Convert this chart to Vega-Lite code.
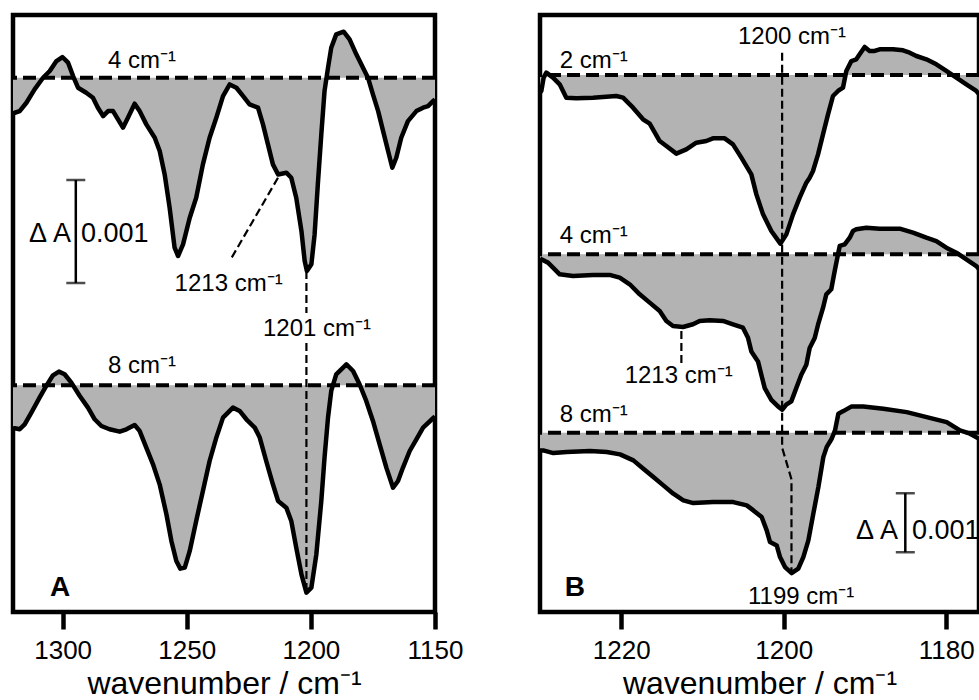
{
"$schema": "https://vega.github.io/schema/vega-lite/v6.json",
"padding": {"left": 8, "top": 12, "right": 0, "bottom": 0},
"bounds": "flush",
"spacing": 105,
"config": {
 "font": "Liberation Sans",
 "view": {"stroke": "#000", "strokeWidth": 4.5},
 "axis": {"grid": false, "domain": false, "tickColor": "#000", "tickWidth": 4.5, "tickSize": 17, "labelFontSize": 26, "labelColor": "#000", "labelPadding": 8, "labelFlush": false, "labelOverlap": false, "titleFontSize": 32, "titleFontWeight": "normal", "titleColor": "#000", "titlePadding": 5, "labelFont": "Liberation Sans", "titleFont": "Liberation Sans", "format": "d"},
 "text": {"font": "Liberation Sans", "color": "#000"}
},
"datasets": {
 "baselines": [
  {"s": "A4", "panel": "A", "base": 5.168},
  {"s": "A8", "panel": "A", "base": 2.182},
  {"s": "B2", "panel": "B", "base": 9.119},
  {"s": "B4", "panel": "B", "base": 6.080},
  {"s": "B8", "panel": "B", "base": 3.056}
 ],
 "bars": [
  {"panel": "A", "wn": 1294.7, "lo": 3.175, "hi": 4.175},
  {"panel": "B", "wn": 1185.04, "lo": 1.03, "hi": 2.03}
 ],
 "guides": [
  {"panel": "A", "g": "A1213", "ord": 1, "wn": 1213.25, "y": 4.197},
  {"panel": "A", "g": "A1213", "ord": 2, "wn": 1232.3, "y": 3.405},
  {"panel": "A", "g": "A1201a", "ord": 1, "wn": 1201.8, "y": 3.291},
  {"panel": "A", "g": "A1201a", "ord": 2, "wn": 1201.8, "y": 2.883},
  {"panel": "A", "g": "A1201b", "ord": 1, "wn": 1201.8, "y": 2.592},
  {"panel": "A", "g": "A1201b", "ord": 2, "wn": 1201.8, "y": 0.184},
  {"panel": "B", "g": "B1200", "ord": 1, "wn": 1200.2, "y": 9.497},
  {"panel": "B", "g": "B1200", "ord": 2, "wn": 1200.2, "y": 2.802},
  {"panel": "B", "g": "B1200", "ord": 3, "wn": 1199.05, "y": 2.266},
  {"panel": "B", "g": "B1200", "ord": 4, "wn": 1199.05, "y": 0.661},
  {"panel": "B", "g": "B1213", "ord": 1, "wn": 1212.6, "y": 4.78},
  {"panel": "B", "g": "B1213", "ord": 2, "wn": 1212.6, "y": 4.215}
 ],
 "labels": [
  {"panel": "A", "kind": "note", "text": "4 cm⁻¹", "wn": 1281.7, "y": 5.262},
  {"panel": "A", "kind": "note", "text": "8 cm⁻¹", "wn": 1281.7, "y": 2.304},
  {"panel": "A", "kind": "note", "text": "1213 cm⁻¹", "wn": 1254.9, "y": 3.097},
  {"panel": "A", "kind": "note", "text": "1201 cm⁻¹", "wn": 1219.3, "y": 2.66},
  {"panel": "A", "kind": "delta", "text": "Δ A", "wn": 1296.6, "y": 3.576},
  {"panel": "A", "kind": "unit", "text": "0.001", "wn": 1292.6, "y": 3.576},
  {"panel": "A", "kind": "panel", "text": "A", "wn": 1305.1, "y": 0.136},
  {"panel": "B", "kind": "note", "text": "2 cm⁻¹", "wn": 1227.58, "y": 9.242},
  {"panel": "B", "kind": "note", "text": "4 cm⁻¹", "wn": 1227.58, "y": 6.276},
  {"panel": "B", "kind": "note", "text": "8 cm⁻¹", "wn": 1227.58, "y": 3.242},
  {"panel": "B", "kind": "note", "text": "1200 cm⁻¹", "wn": 1205.63, "y": 9.639},
  {"panel": "B", "kind": "note", "text": "1213 cm⁻¹", "wn": 1219.58, "y": 3.903},
  {"panel": "B", "kind": "note", "text": "1199 cm⁻¹", "wn": 1204.4, "y": 0.147},
  {"panel": "B", "kind": "delta", "text": "Δ A", "wn": 1185.94, "y": 1.249},
  {"panel": "B", "kind": "unit", "text": "0.001", "wn": 1184.22, "y": 1.249},
  {"panel": "B", "kind": "panel", "text": "B", "wn": 1226.96, "y": 0.288}
 ],
 "spectra": [
  {"s":"A4","wn":1320,"dA":-0.345},{"s":"A4","wn":1319.3,"dA":-0.34},{"s":"A4","wn":1317.3,"dA":-0.324},{"s":"A4","wn":1314.6,"dA":-0.243},{"s":"A4","wn":1311.3,"dA":-0.113},{"s":"A4","wn":1307.9,"dA":0},{"s":"A4","wn":1305.2,"dA":0.065},{"s":"A4","wn":1302.5,"dA":0.162},{"s":"A4","wn":1300.1,"dA":0.201},{"s":"A4","wn":1297.8,"dA":0.146},{"s":"A4","wn":1295.8,"dA":0.016},{"s":"A4","wn":1293.8,"dA":-0.097},{"s":"A4","wn":1290.5,"dA":-0.146},{"s":"A4","wn":1287.8,"dA":-0.194},{"s":"A4","wn":1285.8,"dA":-0.291},{"s":"A4","wn":1283.7,"dA":-0.372},{"s":"A4","wn":1281.7,"dA":-0.324},{"s":"A4","wn":1279.7,"dA":-0.324},{"s":"A4","wn":1277.7,"dA":-0.405},{"s":"A4","wn":1275.7,"dA":-0.485},{"s":"A4","wn":1273.7,"dA":-0.388},{"s":"A4","wn":1271.0,"dA":-0.252},{"s":"A4","wn":1269.0,"dA":-0.324},{"s":"A4","wn":1266.3,"dA":-0.453},{"s":"A4","wn":1262.9,"dA":-0.583},{"s":"A4","wn":1260.9,"dA":-0.712},{"s":"A4","wn":1258.9,"dA":-0.939},{"s":"A4","wn":1256.9,"dA":-1.262},{"s":"A4","wn":1254.9,"dA":-1.65},{"s":"A4","wn":1253.5,"dA":-1.731},{"s":"A4","wn":1251.5,"dA":-1.618},{"s":"A4","wn":1248.8,"dA":-1.359},{"s":"A4","wn":1246.2,"dA":-1.165},{"s":"A4","wn":1243.5,"dA":-0.841},{"s":"A4","wn":1240.8,"dA":-0.583},{"s":"A4","wn":1238.1,"dA":-0.388},{"s":"A4","wn":1235.4,"dA":-0.178},{"s":"A4","wn":1232.7,"dA":-0.065},{"s":"A4","wn":1230.0,"dA":-0.097},{"s":"A4","wn":1227.3,"dA":-0.178},{"s":"A4","wn":1224.7,"dA":-0.259},{"s":"A4","wn":1221.3,"dA":-0.291},{"s":"A4","wn":1219.3,"dA":-0.453},{"s":"A4","wn":1217.3,"dA":-0.647},{"s":"A4","wn":1215.3,"dA":-0.841},{"s":"A4","wn":1213.2,"dA":-0.939},{"s":"A4","wn":1209.9,"dA":-0.922},{"s":"A4","wn":1207.9,"dA":-0.971},{"s":"A4","wn":1205.9,"dA":-1.165},{"s":"A4","wn":1203.8,"dA":-1.489},{"s":"A4","wn":1202.5,"dA":-1.78},{"s":"A4","wn":1201.6,"dA":-1.877},{"s":"A4","wn":1199.8,"dA":-1.812},{"s":"A4","wn":1198.5,"dA":-1.521},{"s":"A4","wn":1197.2,"dA":-1.036},{"s":"A4","wn":1195.8,"dA":-0.55},{"s":"A4","wn":1194.5,"dA":-0.129},{"s":"A4","wn":1193.1,"dA":0.097},{"s":"A4","wn":1191.8,"dA":0.291},{"s":"A4","wn":1189.8,"dA":0.421},{"s":"A4","wn":1186.8,"dA":0.447},{"s":"A4","wn":1184.4,"dA":0.372},{"s":"A4","wn":1181.7,"dA":0.227},{"s":"A4","wn":1179.0,"dA":0.097},{"s":"A4","wn":1177.0,"dA":0},{"s":"A4","wn":1175.0,"dA":-0.162},{"s":"A4","wn":1172.9,"dA":-0.324},{"s":"A4","wn":1170.9,"dA":-0.518},{"s":"A4","wn":1168.9,"dA":-0.712},{"s":"A4","wn":1167.2,"dA":-0.874},{"s":"A4","wn":1165.6,"dA":-0.777},{"s":"A4","wn":1163.6,"dA":-0.583},{"s":"A4","wn":1160.9,"dA":-0.421},{"s":"A4","wn":1157.5,"dA":-0.324},{"s":"A4","wn":1154.8,"dA":-0.291},{"s":"A4","wn":1152.8,"dA":-0.275},{"s":"A4","wn":1150.8,"dA":-0.227},{"s":"A4","wn":1150.0,"dA":-0.21},
  {"s":"A8","wn":1320,"dA":-0.42},{"s":"A8","wn":1319.3,"dA":-0.417},{"s":"A8","wn":1317.3,"dA":-0.427},{"s":"A8","wn":1315.3,"dA":-0.379},{"s":"A8","wn":1312.6,"dA":-0.265},{"s":"A8","wn":1309.3,"dA":-0.12},{"s":"A8","wn":1306.6,"dA":-0.006},{"s":"A8","wn":1303.9,"dA":0.097},{"s":"A8","wn":1301.5,"dA":0.133},{"s":"A8","wn":1299.2,"dA":0.107},{"s":"A8","wn":1296.5,"dA":0.026},{"s":"A8","wn":1293.1,"dA":-0.104},{"s":"A8","wn":1289.8,"dA":-0.217},{"s":"A8","wn":1287.1,"dA":-0.33},{"s":"A8","wn":1284.4,"dA":-0.395},{"s":"A8","wn":1281.1,"dA":-0.427},{"s":"A8","wn":1277.0,"dA":-0.45},{"s":"A8","wn":1274.3,"dA":-0.427},{"s":"A8","wn":1271.0,"dA":-0.385},{"s":"A8","wn":1269.0,"dA":-0.443},{"s":"A8","wn":1266.3,"dA":-0.605},{"s":"A8","wn":1263.6,"dA":-0.767},{"s":"A8","wn":1260.9,"dA":-0.964},{"s":"A8","wn":1258.2,"dA":-1.252},{"s":"A8","wn":1256.2,"dA":-1.511},{"s":"A8","wn":1254.2,"dA":-1.706},{"s":"A8","wn":1252.6,"dA":-1.78},{"s":"A8","wn":1250.8,"dA":-1.77},{"s":"A8","wn":1248.8,"dA":-1.608},{"s":"A8","wn":1246.2,"dA":-1.317},{"s":"A8","wn":1243.5,"dA":-1.026},{"s":"A8","wn":1240.8,"dA":-0.735},{"s":"A8","wn":1238.1,"dA":-0.508},{"s":"A8","wn":1235.4,"dA":-0.314},{"s":"A8","wn":1231.4,"dA":-0.217},{"s":"A8","wn":1228.7,"dA":-0.249},{"s":"A8","wn":1226.0,"dA":-0.33},{"s":"A8","wn":1222.6,"dA":-0.411},{"s":"A8","wn":1220.6,"dA":-0.508},{"s":"A8","wn":1218.0,"dA":-0.735},{"s":"A8","wn":1215.3,"dA":-0.961},{"s":"A8","wn":1213.2,"dA":-1.123},{"s":"A8","wn":1209.9,"dA":-1.188},{"s":"A8","wn":1207.9,"dA":-1.317},{"s":"A8","wn":1205.9,"dA":-1.576},{"s":"A8","wn":1203.8,"dA":-1.835},{"s":"A8","wn":1201.8,"dA":-2.013},{"s":"A8","wn":1199.8,"dA":-1.964},{"s":"A8","wn":1197.8,"dA":-1.641},{"s":"A8","wn":1195.8,"dA":-1.123},{"s":"A8","wn":1194.5,"dA":-0.702},{"s":"A8","wn":1193.1,"dA":-0.314},{"s":"A8","wn":1191.8,"dA":-0.055},{"s":"A8","wn":1189.8,"dA":0.107},{"s":"A8","wn":1185.7,"dA":0.204},{"s":"A8","wn":1183.0,"dA":0.139},{"s":"A8","wn":1180.4,"dA":0.01},{"s":"A8","wn":1177.7,"dA":-0.152},{"s":"A8","wn":1175.0,"dA":-0.346},{"s":"A8","wn":1172.3,"dA":-0.573},{"s":"A8","wn":1169.6,"dA":-0.799},{"s":"A8","wn":1166.9,"dA":-0.994},{"s":"A8","wn":1164.9,"dA":-0.929},{"s":"A8","wn":1162.9,"dA":-0.799},{"s":"A8","wn":1160.2,"dA":-0.638},{"s":"A8","wn":1157.5,"dA":-0.524},{"s":"A8","wn":1154.8,"dA":-0.411},{"s":"A8","wn":1150.8,"dA":-0.32},{"s":"A8","wn":1150.0,"dA":-0.3},
  {"s":"B2","wn":1230.0,"dA":-0.3},{"s":"B2","wn":1229.84,"dA":-0.271},{"s":"B2","wn":1229.55,"dA":-0.045},{"s":"B2","wn":1229.22,"dA":0.04},{"s":"B2","wn":1228.4,"dA":-0.045},{"s":"B2","wn":1227.58,"dA":-0.158},{"s":"B2","wn":1226.76,"dA":-0.384},{"s":"B2","wn":1225.53,"dA":-0.395},{"s":"B2","wn":1223.48,"dA":-0.384},{"s":"B2","wn":1220.61,"dA":-0.356},{"s":"B2","wn":1219.78,"dA":-0.384},{"s":"B2","wn":1218.55,"dA":-0.554},{"s":"B2","wn":1217.32,"dA":-0.751},{"s":"B2","wn":1216.5,"dA":-0.825},{"s":"B2","wn":1215.27,"dA":-1.119},{"s":"B2","wn":1214.45,"dA":-1.203},{"s":"B2","wn":1213.22,"dA":-1.333},{"s":"B2","wn":1211.99,"dA":-1.26},{"s":"B2","wn":1210.76,"dA":-1.147},{"s":"B2","wn":1209.53,"dA":-1.119},{"s":"B2","wn":1208.71,"dA":-1.073},{"s":"B2","wn":1207.27,"dA":-1.073},{"s":"B2","wn":1206.25,"dA":-1.175},{"s":"B2","wn":1205.22,"dA":-1.401},{"s":"B2","wn":1203.99,"dA":-1.684},{"s":"B2","wn":1203.37,"dA":-2.023},{"s":"B2","wn":1202.55,"dA":-2.362},{"s":"B2","wn":1201.53,"dA":-2.644},{"s":"B2","wn":1200.42,"dA":-2.859},{"s":"B2","wn":1199.68,"dA":-2.701},{"s":"B2","wn":1198.86,"dA":-2.362},{"s":"B2","wn":1198.04,"dA":-2.079},{"s":"B2","wn":1197.22,"dA":-1.825},{"s":"B2","wn":1196.81,"dA":-1.74},{"s":"B2","wn":1196.4,"dA":-1.627},{"s":"B2","wn":1195.78,"dA":-1.345},{"s":"B2","wn":1195.17,"dA":-1.006},{"s":"B2","wn":1194.55,"dA":-0.667},{"s":"B2","wn":1193.94,"dA":-0.356},{"s":"B2","wn":1193.32,"dA":-0.271},{"s":"B2","wn":1192.71,"dA":-0.215},{"s":"B2","wn":1192.3,"dA":0.068},{"s":"B2","wn":1191.68,"dA":0.237},{"s":"B2","wn":1191.07,"dA":0.266},{"s":"B2","wn":1190.66,"dA":0.35},{"s":"B2","wn":1190.04,"dA":0.475},{"s":"B2","wn":1189.43,"dA":0.407},{"s":"B2","wn":1188.81,"dA":0.407},{"s":"B2","wn":1188.2,"dA":0.435},{"s":"B2","wn":1186.55,"dA":0.435},{"s":"B2","wn":1185.32,"dA":0.418},{"s":"B2","wn":1184.5,"dA":0.379},{"s":"B2","wn":1183.68,"dA":0.322},{"s":"B2","wn":1182.45,"dA":0.266},{"s":"B2","wn":1181.22,"dA":0.181},{"s":"B2","wn":1179.99,"dA":0.068},{"s":"B2","wn":1178.76,"dA":-0.045},{"s":"B2","wn":1177.53,"dA":-0.158},{"s":"B2","wn":1176.3,"dA":-0.271},{"s":"B2","wn":1175.6,"dA":-0.384},
  {"s":"B4","wn":1230.0,"dA":-0.07},{"s":"B4","wn":1229.84,"dA":-0.085},{"s":"B4","wn":1229.02,"dA":-0.141},{"s":"B4","wn":1228.4,"dA":-0.226},{"s":"B4","wn":1227.58,"dA":-0.339},{"s":"B4","wn":1225.94,"dA":-0.367},{"s":"B4","wn":1223.48,"dA":-0.35},{"s":"B4","wn":1221.43,"dA":-0.35},{"s":"B4","wn":1220.19,"dA":-0.395},{"s":"B4","wn":1218.96,"dA":-0.508},{"s":"B4","wn":1217.73,"dA":-0.678},{"s":"B4","wn":1216.5,"dA":-0.819},{"s":"B4","wn":1215.27,"dA":-0.96},{"s":"B4","wn":1214.45,"dA":-1.13},{"s":"B4","wn":1213.63,"dA":-1.215},{"s":"B4","wn":1212.4,"dA":-1.232},{"s":"B4","wn":1211.17,"dA":-1.186},{"s":"B4","wn":1210.35,"dA":-1.13},{"s":"B4","wn":1209.12,"dA":-1.119},{"s":"B4","wn":1207.48,"dA":-1.13},{"s":"B4","wn":1206.25,"dA":-1.186},{"s":"B4","wn":1205.02,"dA":-1.244},{"s":"B4","wn":1204.4,"dA":-1.414},{"s":"B4","wn":1203.99,"dA":-1.646},{"s":"B4","wn":1203.17,"dA":-1.815},{"s":"B4","wn":1202.76,"dA":-2.041},{"s":"B4","wn":1202.34,"dA":-2.268},{"s":"B4","wn":1201.53,"dA":-2.466},{"s":"B4","wn":1200.71,"dA":-2.578},{"s":"B4","wn":1200.18,"dA":-2.634},{"s":"B4","wn":1199.69,"dA":-2.549},{"s":"B4","wn":1199.07,"dA":-2.493},{"s":"B4","wn":1198.46,"dA":-2.268},{"s":"B4","wn":1197.84,"dA":-2.041},{"s":"B4","wn":1197.22,"dA":-1.872},{"s":"B4","wn":1196.81,"dA":-1.588},{"s":"B4","wn":1196.19,"dA":-1.419},{"s":"B4","wn":1195.78,"dA":-1.193},{"s":"B4","wn":1195.17,"dA":-0.91},{"s":"B4","wn":1194.76,"dA":-0.678},{"s":"B4","wn":1194.15,"dA":-0.593},{"s":"B4","wn":1193.73,"dA":-0.283},{"s":"B4","wn":1193.32,"dA":0},{"s":"B4","wn":1193.11,"dA":0.141},{"s":"B4","wn":1192.5,"dA":0.168},{"s":"B4","wn":1191.88,"dA":0.281},{"s":"B4","wn":1191.48,"dA":0.395},{"s":"B4","wn":1191.07,"dA":0.424},{"s":"B4","wn":1189.84,"dA":0.451},{"s":"B4","wn":1188.19,"dA":0.434},{"s":"B4","wn":1185.73,"dA":0.434},{"s":"B4","wn":1184.09,"dA":0.366},{"s":"B4","wn":1182.45,"dA":0.281},{"s":"B4","wn":1181.22,"dA":0.225},{"s":"B4","wn":1179.99,"dA":0.112},{"s":"B4","wn":1178.76,"dA":0.027},{"s":"B4","wn":1177.53,"dA":-0.085},{"s":"B4","wn":1176.3,"dA":-0.199},{"s":"B4","wn":1175.6,"dA":-0.311},
  {"s":"B8","wn":1230.0,"dA":-0.3},{"s":"B8","wn":1229.6,"dA":-0.3},{"s":"B8","wn":1228.36,"dA":-0.345},{"s":"B8","wn":1226.72,"dA":-0.328},{"s":"B8","wn":1223.85,"dA":-0.311},{"s":"B8","wn":1221.79,"dA":-0.328},{"s":"B8","wn":1220.15,"dA":-0.367},{"s":"B8","wn":1218.51,"dA":-0.469},{"s":"B8","wn":1217.28,"dA":-0.61},{"s":"B8","wn":1216.05,"dA":-0.752},{"s":"B8","wn":1214.82,"dA":-0.893},{"s":"B8","wn":1213.59,"dA":-1.034},{"s":"B8","wn":1212.36,"dA":-1.147},{"s":"B8","wn":1211.13,"dA":-1.193},{"s":"B8","wn":1208.67,"dA":-1.176},{"s":"B8","wn":1206.21,"dA":-1.176},{"s":"B8","wn":1204.56,"dA":-1.232},{"s":"B8","wn":1203.74,"dA":-1.317},{"s":"B8","wn":1202.72,"dA":-1.43},{"s":"B8","wn":1202.1,"dA":-1.656},{"s":"B8","wn":1201.69,"dA":-1.854},{"s":"B8","wn":1200.87,"dA":-1.91},{"s":"B8","wn":1200.46,"dA":-2.108},{"s":"B8","wn":1199.85,"dA":-2.278},{"s":"B8","wn":1199.03,"dA":-2.38},{"s":"B8","wn":1198.21,"dA":-2.305},{"s":"B8","wn":1197.59,"dA":-2.108},{"s":"B8","wn":1196.97,"dA":-1.825},{"s":"B8","wn":1196.36,"dA":-1.373},{"s":"B8","wn":1195.74,"dA":-0.922},{"s":"B8","wn":1195.13,"dA":-0.414},{"s":"B8","wn":1194.72,"dA":-0.244},{"s":"B8","wn":1194.1,"dA":-0.102},{"s":"B8","wn":1193.69,"dA":0.039},{"s":"B8","wn":1193.28,"dA":0.322},{"s":"B8","wn":1192.67,"dA":0.366},{"s":"B8","wn":1191.64,"dA":0.446},{"s":"B8","wn":1190.21,"dA":0.446},{"s":"B8","wn":1187.74,"dA":0.407},{"s":"B8","wn":1184.87,"dA":0.349},{"s":"B8","wn":1182.41,"dA":0.264},{"s":"B8","wn":1179.95,"dA":0.18},{"s":"B8","wn":1178.31,"dA":0.039},{"s":"B8","wn":1177.08,"dA":-0.017},{"s":"B8","wn":1175.6,"dA":-0.131}
 ]
},
"hconcat": [
 {
  "width": 422, "height": 597,
  "layer": [
   {"data": {"name": "spectra"},
    "transform": [{"filter": {"field": "s", "oneOf": ["A4", "A8"]}}, {"lookup": "s", "from": {"data": {"name": "baselines"}, "key": "s", "fields": ["base"]}}, {"calculate": "datum.dA + datum.base", "as": "y"}],
    "mark": {"type": "area", "clip": true, "fill": "#b3b3b3", "stroke": null},
    "encoding": {
     "x": {"field": "wn", "type": "quantitative", "scale": {"domain": [1150, 1320], "reverse": true, "nice": false, "zero": false}, "axis": {"values": [1300, 1250, 1200, 1150], "title": "wavenumber / cm⁻¹"}},
     "y": {"field": "y", "type": "quantitative", "scale": {"domain": [-0.019, 5.777], "nice": false, "zero": false}, "axis": null},
     "y2": {"field": "base"},
     "detail": {"field": "s"}
    }},
   {"data": {"name": "baselines"},
    "transform": [{"filter": "datum.panel === 'A'"}],
    "mark": {"type": "rule", "color": "#000", "strokeWidth": 4, "strokeDash": [13, 6]},
    "encoding": {
     "y": {"field": "base", "type": "quantitative", "scale": {"domain": [-0.019, 5.777], "nice": false, "zero": false}, "axis": null}
    }},
   {"data": {"name": "spectra"},
    "transform": [{"filter": {"field": "s", "oneOf": ["A4", "A8"]}}, {"lookup": "s", "from": {"data": {"name": "baselines"}, "key": "s", "fields": ["base"]}}, {"calculate": "datum.dA + datum.base", "as": "y"}],
    "mark": {"type": "line", "clip": true, "color": "#000", "strokeWidth": 4.5, "strokeJoin": "round"},
    "encoding": {
     "x": {"field": "wn", "type": "quantitative", "scale": {"domain": [1150, 1320], "reverse": true, "nice": false, "zero": false}, "axis": {"values": [1300, 1250, 1200, 1150], "title": "wavenumber / cm⁻¹"}},
     "y": {"field": "y", "type": "quantitative", "scale": {"domain": [-0.019, 5.777], "nice": false, "zero": false}, "axis": null},
     "detail": {"field": "s"}
    }},
   {"data": {"name": "guides"},
    "transform": [{"filter": "datum.panel === 'A'"}],
    "mark": {"type": "line", "color": "#000", "strokeWidth": 2.2, "strokeDash": [8, 4]},
    "encoding": {
     "x": {"field": "wn", "type": "quantitative", "scale": {"domain": [1150, 1320], "reverse": true, "nice": false, "zero": false}, "axis": {"values": [1300, 1250, 1200, 1150], "title": "wavenumber / cm⁻¹"}},
     "y": {"field": "y", "type": "quantitative", "scale": {"domain": [-0.019, 5.777], "nice": false, "zero": false}, "axis": null},
     "detail": {"field": "g"},
     "order": {"field": "ord"}
    }},
   {"data": {"name": "bars"},
    "transform": [{"filter": "datum.panel === 'A'"}],
    "mark": {"type": "rule", "color": "#000", "strokeWidth": 2.5},
    "encoding": {
     "x": {"field": "wn", "type": "quantitative", "scale": {"domain": [1150, 1320], "reverse": true, "nice": false, "zero": false}, "axis": {"values": [1300, 1250, 1200, 1150], "title": "wavenumber / cm⁻¹"}},
     "y": {"field": "lo", "type": "quantitative", "scale": {"domain": [-0.019, 5.777], "nice": false, "zero": false}, "axis": null},
     "y2": {"field": "hi"}
    }},
   {"data": {"name": "bars"},
    "transform": [{"filter": "datum.panel === 'A'"}],
    "mark": {"type": "tick", "orient": "horizontal", "color": "#000", "size": 19, "thickness": 2.5},
    "encoding": {
     "x": {"field": "wn", "type": "quantitative", "scale": {"domain": [1150, 1320], "reverse": true, "nice": false, "zero": false}, "axis": {"values": [1300, 1250, 1200, 1150], "title": "wavenumber / cm⁻¹"}},
     "y": {"field": "lo", "type": "quantitative", "scale": {"domain": [-0.019, 5.777], "nice": false, "zero": false}, "axis": null}
    }},
   {"data": {"name": "bars"},
    "transform": [{"filter": "datum.panel === 'A'"}],
    "mark": {"type": "tick", "orient": "horizontal", "color": "#000", "size": 19, "thickness": 2.5},
    "encoding": {
     "x": {"field": "wn", "type": "quantitative", "scale": {"domain": [1150, 1320], "reverse": true, "nice": false, "zero": false}, "axis": {"values": [1300, 1250, 1200, 1150], "title": "wavenumber / cm⁻¹"}},
     "y": {"field": "hi", "type": "quantitative", "scale": {"domain": [-0.019, 5.777], "nice": false, "zero": false}, "axis": null}
    }},
   {"data": {"name": "labels"},
    "transform": [{"filter": "datum.panel === 'A' && datum.kind === 'note'"}],
    "mark": {"type": "text", "align": "left", "baseline": "alphabetic", "fontSize": 24, "color": "#000"},
    "encoding": {
     "x": {"field": "wn", "type": "quantitative", "scale": {"domain": [1150, 1320], "reverse": true, "nice": false, "zero": false}, "axis": {"values": [1300, 1250, 1200, 1150], "title": "wavenumber / cm⁻¹"}},
     "y": {"field": "y", "type": "quantitative", "scale": {"domain": [-0.019, 5.777], "nice": false, "zero": false}, "axis": null},
     "text": {"field": "text"}
    }},
   {"data": {"name": "labels"},
    "transform": [{"filter": "datum.panel === 'A' && datum.kind === 'unit'"}],
    "mark": {"type": "text", "align": "left", "baseline": "alphabetic", "fontSize": 27, "color": "#000"},
    "encoding": {
     "x": {"field": "wn", "type": "quantitative", "scale": {"domain": [1150, 1320], "reverse": true, "nice": false, "zero": false}, "axis": {"values": [1300, 1250, 1200, 1150], "title": "wavenumber / cm⁻¹"}},
     "y": {"field": "y", "type": "quantitative", "scale": {"domain": [-0.019, 5.777], "nice": false, "zero": false}, "axis": null},
     "text": {"field": "text"}
    }},
   {"data": {"name": "labels"},
    "transform": [{"filter": "datum.panel === 'A' && datum.kind === 'delta'"}],
    "mark": {"type": "text", "align": "right", "baseline": "alphabetic", "fontSize": 27, "color": "#000"},
    "encoding": {
     "x": {"field": "wn", "type": "quantitative", "scale": {"domain": [1150, 1320], "reverse": true, "nice": false, "zero": false}, "axis": {"values": [1300, 1250, 1200, 1150], "title": "wavenumber / cm⁻¹"}},
     "y": {"field": "y", "type": "quantitative", "scale": {"domain": [-0.019, 5.777], "nice": false, "zero": false}, "axis": null},
     "text": {"field": "text"}
    }},
   {"data": {"name": "labels"},
    "transform": [{"filter": "datum.panel === 'A' && datum.kind === 'panel'"}],
    "mark": {"type": "text", "align": "left", "baseline": "alphabetic", "fontSize": 28, "fontWeight": "bold", "color": "#000"},
    "encoding": {
     "x": {"field": "wn", "type": "quantitative", "scale": {"domain": [1150, 1320], "reverse": true, "nice": false, "zero": false}, "axis": {"values": [1300, 1250, 1200, 1150], "title": "wavenumber / cm⁻¹"}},
     "y": {"field": "y", "type": "quantitative", "scale": {"domain": [-0.019, 5.777], "nice": false, "zero": false}, "axis": null},
     "text": {"field": "text"}
    }}
  ]
 },
 {
  "width": 439, "height": 597,
  "layer": [
   {"data": {"name": "spectra"},
    "transform": [{"filter": {"field": "s", "oneOf": ["B2", "B4", "B8"]}}, {"lookup": "s", "from": {"data": {"name": "baselines"}, "key": "s", "fields": ["base"]}}, {"calculate": "datum.dA + datum.base", "as": "y"}],
    "mark": {"type": "area", "clip": true, "fill": "#b3b3b3", "stroke": null},
    "encoding": {
     "x": {"field": "wn", "type": "quantitative", "scale": {"domain": [1175.97, 1230], "reverse": true, "nice": false, "zero": false}, "axis": {"values": [1220, 1200, 1180], "title": "wavenumber / cm⁻¹"}},
     "y": {"field": "y", "type": "quantitative", "scale": {"domain": [0.017, 10.136], "nice": false, "zero": false}, "axis": null},
     "y2": {"field": "base"},
     "detail": {"field": "s"}
    }},
   {"data": {"name": "baselines"},
    "transform": [{"filter": "datum.panel === 'B'"}],
    "mark": {"type": "rule", "color": "#000", "strokeWidth": 4, "strokeDash": [13, 6]},
    "encoding": {
     "y": {"field": "base", "type": "quantitative", "scale": {"domain": [0.017, 10.136], "nice": false, "zero": false}, "axis": null}
    }},
   {"data": {"name": "spectra"},
    "transform": [{"filter": {"field": "s", "oneOf": ["B2", "B4", "B8"]}}, {"lookup": "s", "from": {"data": {"name": "baselines"}, "key": "s", "fields": ["base"]}}, {"calculate": "datum.dA + datum.base", "as": "y"}],
    "mark": {"type": "line", "clip": true, "color": "#000", "strokeWidth": 4.5, "strokeJoin": "round"},
    "encoding": {
     "x": {"field": "wn", "type": "quantitative", "scale": {"domain": [1175.97, 1230], "reverse": true, "nice": false, "zero": false}, "axis": {"values": [1220, 1200, 1180], "title": "wavenumber / cm⁻¹"}},
     "y": {"field": "y", "type": "quantitative", "scale": {"domain": [0.017, 10.136], "nice": false, "zero": false}, "axis": null},
     "detail": {"field": "s"}
    }},
   {"data": {"name": "guides"},
    "transform": [{"filter": "datum.panel === 'B'"}],
    "mark": {"type": "line", "color": "#000", "strokeWidth": 2.2, "strokeDash": [8, 4]},
    "encoding": {
     "x": {"field": "wn", "type": "quantitative", "scale": {"domain": [1175.97, 1230], "reverse": true, "nice": false, "zero": false}, "axis": {"values": [1220, 1200, 1180], "title": "wavenumber / cm⁻¹"}},
     "y": {"field": "y", "type": "quantitative", "scale": {"domain": [0.017, 10.136], "nice": false, "zero": false}, "axis": null},
     "detail": {"field": "g"},
     "order": {"field": "ord"}
    }},
   {"data": {"name": "bars"},
    "transform": [{"filter": "datum.panel === 'B'"}],
    "mark": {"type": "rule", "color": "#000", "strokeWidth": 2.5},
    "encoding": {
     "x": {"field": "wn", "type": "quantitative", "scale": {"domain": [1175.97, 1230], "reverse": true, "nice": false, "zero": false}, "axis": {"values": [1220, 1200, 1180], "title": "wavenumber / cm⁻¹"}},
     "y": {"field": "lo", "type": "quantitative", "scale": {"domain": [0.017, 10.136], "nice": false, "zero": false}, "axis": null},
     "y2": {"field": "hi"}
    }},
   {"data": {"name": "bars"},
    "transform": [{"filter": "datum.panel === 'B'"}],
    "mark": {"type": "tick", "orient": "horizontal", "color": "#000", "size": 19, "thickness": 2.5},
    "encoding": {
     "x": {"field": "wn", "type": "quantitative", "scale": {"domain": [1175.97, 1230], "reverse": true, "nice": false, "zero": false}, "axis": {"values": [1220, 1200, 1180], "title": "wavenumber / cm⁻¹"}},
     "y": {"field": "lo", "type": "quantitative", "scale": {"domain": [0.017, 10.136], "nice": false, "zero": false}, "axis": null}
    }},
   {"data": {"name": "bars"},
    "transform": [{"filter": "datum.panel === 'B'"}],
    "mark": {"type": "tick", "orient": "horizontal", "color": "#000", "size": 19, "thickness": 2.5},
    "encoding": {
     "x": {"field": "wn", "type": "quantitative", "scale": {"domain": [1175.97, 1230], "reverse": true, "nice": false, "zero": false}, "axis": {"values": [1220, 1200, 1180], "title": "wavenumber / cm⁻¹"}},
     "y": {"field": "hi", "type": "quantitative", "scale": {"domain": [0.017, 10.136], "nice": false, "zero": false}, "axis": null}
    }},
   {"data": {"name": "labels"},
    "transform": [{"filter": "datum.panel === 'B' && datum.kind === 'note'"}],
    "mark": {"type": "text", "align": "left", "baseline": "alphabetic", "fontSize": 24, "color": "#000"},
    "encoding": {
     "x": {"field": "wn", "type": "quantitative", "scale": {"domain": [1175.97, 1230], "reverse": true, "nice": false, "zero": false}, "axis": {"values": [1220, 1200, 1180], "title": "wavenumber / cm⁻¹"}},
     "y": {"field": "y", "type": "quantitative", "scale": {"domain": [0.017, 10.136], "nice": false, "zero": false}, "axis": null},
     "text": {"field": "text"}
    }},
   {"data": {"name": "labels"},
    "transform": [{"filter": "datum.panel === 'B' && datum.kind === 'unit'"}],
    "mark": {"type": "text", "align": "left", "baseline": "alphabetic", "fontSize": 27, "color": "#000"},
    "encoding": {
     "x": {"field": "wn", "type": "quantitative", "scale": {"domain": [1175.97, 1230], "reverse": true, "nice": false, "zero": false}, "axis": {"values": [1220, 1200, 1180], "title": "wavenumber / cm⁻¹"}},
     "y": {"field": "y", "type": "quantitative", "scale": {"domain": [0.017, 10.136], "nice": false, "zero": false}, "axis": null},
     "text": {"field": "text"}
    }},
   {"data": {"name": "labels"},
    "transform": [{"filter": "datum.panel === 'B' && datum.kind === 'delta'"}],
    "mark": {"type": "text", "align": "right", "baseline": "alphabetic", "fontSize": 27, "color": "#000"},
    "encoding": {
     "x": {"field": "wn", "type": "quantitative", "scale": {"domain": [1175.97, 1230], "reverse": true, "nice": false, "zero": false}, "axis": {"values": [1220, 1200, 1180], "title": "wavenumber / cm⁻¹"}},
     "y": {"field": "y", "type": "quantitative", "scale": {"domain": [0.017, 10.136], "nice": false, "zero": false}, "axis": null},
     "text": {"field": "text"}
    }},
   {"data": {"name": "labels"},
    "transform": [{"filter": "datum.panel === 'B' && datum.kind === 'panel'"}],
    "mark": {"type": "text", "align": "left", "baseline": "alphabetic", "fontSize": 28, "fontWeight": "bold", "color": "#000"},
    "encoding": {
     "x": {"field": "wn", "type": "quantitative", "scale": {"domain": [1175.97, 1230], "reverse": true, "nice": false, "zero": false}, "axis": {"values": [1220, 1200, 1180], "title": "wavenumber / cm⁻¹"}},
     "y": {"field": "y", "type": "quantitative", "scale": {"domain": [0.017, 10.136], "nice": false, "zero": false}, "axis": null},
     "text": {"field": "text"}
    }}
  ]
 }
]
}
